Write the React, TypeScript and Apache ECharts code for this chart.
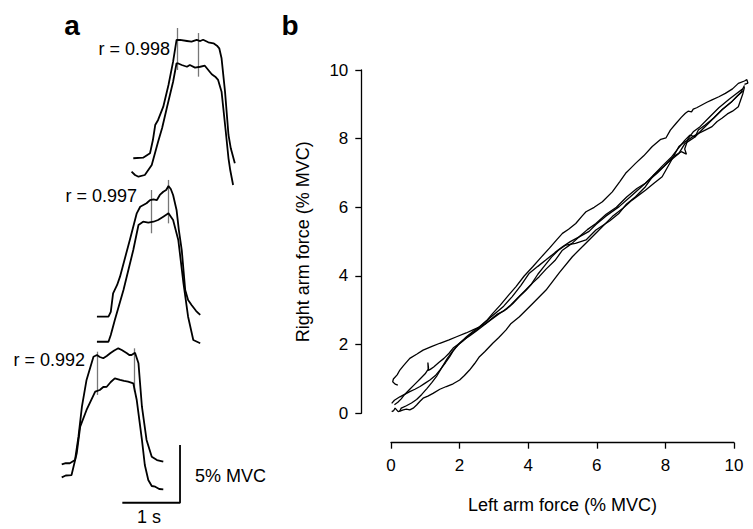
import React, { useEffect, useRef } from "react";
import * as echarts from "echarts";

// ---------- DATA ----------
// Panel a: force traces (local time in s, force in % MVC above each pair's baseline)
const PAIR1_UPPER: number[][] = [
  [0.04, 1.48], [0.21, 1.53], [0.33, 1.91], [0.38, 3.06], [0.42, 4.36], [0.47, 4.8], [0.56, 5.95], [0.65, 7.83],
  [0.73, 9.85], [0.79, 11.73], [0.85, 11.73], [0.97, 11.64], [1.05, 11.58], [1.14, 11.73], [1.2, 11.64],
  [1.25, 11.75], [1.34, 11.53], [1.43, 11.44], [1.49, 11.24], [1.53, 11.01], [1.57, 10.14], [1.63, 7.25],
  [1.69, 3.5], [1.73, 2.34], [1.8, 1.04],
];
const PAIR1_LOWER: number[][] = [
  [0.01, 0.32], [0.07, 0.03], [0.13, -0.12], [0.24, 0.03], [0.36, 0.9], [0.47, 2.92], [0.54, 4.1], [0.62, 5.81],
  [0.73, 8.11], [0.79, 9.71], [0.81, 9.71], [0.88, 9.56], [0.97, 9.41], [1.02, 9.56], [1.11, 9.33], [1.2, 9.41],
  [1.28, 9.5], [1.34, 9.13], [1.4, 8.76], [1.46, 8.55], [1.51, 8.27], [1.57, 7.25], [1.64, 3.93], [1.69, 1.48],
  [1.72, 0.46], [1.77, -0.84],
];
const PAIR1_MARKS: number[][] = [[0.81, 12.77, 9.13], [1.16, 12.33, 8.55]];

const PAIR2_UPPER: number[][] = [
  [0.06, 2.75], [0.26, 2.75], [0.3, 3.16], [0.34, 4.78], [0.41, 5.5], [0.46, 6.22], [0.63, 9.4], [0.75, 11.71],
  [0.81, 12.28], [0.92, 12.58], [0.98, 12.86], [1.04, 12.92], [1.1, 12.86], [1.15, 13.3], [1.21, 13.58],
  [1.26, 13.73], [1.3, 14.08], [1.34, 13.82], [1.38, 13.3], [1.44, 12.0], [1.48, 10.26], [1.53, 8.53],
  [1.59, 5.06], [1.64, 4.2], [1.7, 3.76], [1.78, 3.24], [1.85, 2.9],
];
const PAIR2_LOWER: number[][] = [
  [0.06, 0.58], [0.26, 0.58], [0.3, 1.16], [0.37, 2.46], [0.52, 5.06], [0.69, 8.53], [0.78, 10.7], [0.86, 10.98],
  [0.95, 10.91], [1.04, 10.98], [1.12, 11.13], [1.21, 11.42], [1.3, 11.71], [1.38, 11.13], [1.47, 9.4],
  [1.56, 5.64], [1.64, 2.75], [1.73, 0.73], [1.85, 0.45],
];
const PAIR2_MARKS: number[][] = [[1.01, 13.73, 9.98], [1.3, 14.6, 10.84]];

const PAIR3_UPPER: number[][] = [
  [0.05, 1.96], [0.12, 2.07], [0.19, 2.05], [0.28, 2.33], [0.34, 4.35], [0.4, 6.95], [0.48, 9.27], [0.6, 11.28],
  [0.66, 11.43], [0.71, 11.26], [0.77, 11.15], [0.83, 11.34], [0.89, 11.58], [0.96, 11.82], [1.03, 12.01],
  [1.09, 11.86], [1.18, 11.58], [1.22, 11.43], [1.26, 11.43], [1.32, 11.63], [1.38, 10.71], [1.44, 6.95],
  [1.52, 4.07], [1.61, 2.62], [1.7, 2.33], [1.81, 2.19],
];
const PAIR3_LOWER: number[][] = [
  [0.05, 0.83], [0.12, 0.99], [0.22, 1.03], [0.31, 2.91], [0.37, 5.22], [0.48, 6.67], [0.63, 8.25], [0.71, 8.4],
  [0.77, 8.66], [0.83, 8.68], [0.9, 9.09], [0.97, 9.41], [1.06, 9.27], [1.13, 9.18], [1.2, 9.12], [1.29, 8.98],
  [1.35, 7.53], [1.44, 4.07], [1.49, 1.9], [1.55, 0.6], [1.61, 0.08], [1.67, 0.02], [1.74, -0.18], [1.81, -0.21],
];
const PAIR3_MARKS: number[][] = [[0.66, 11.72, 7.97], [1.31, 12.01, 8.25]];

const R_VALUES = ["r = 0.998", "r = 0.997", "r = 0.992"];
const SCALE_SECONDS = 1;
const SCALE_MVC = 5;

// Panel b: right vs left arm force (% MVC) trajectories
const TRIAL_1: number[][] = [
  [0.2, 0.82], [0.12, 0.85], [0.05, 0.92], [0.07, 1.0], [0.18, 1.12], [0.26, 1.26], [0.36, 1.38], [0.55, 1.6],
  [0.75, 1.72], [0.94, 1.84], [1.2, 1.95], [1.43, 2.04], [1.7, 2.14], [1.92, 2.23], [2.2, 2.34], [2.4, 2.43],
  [2.6, 2.52], [2.79, 2.62], [3.0, 2.78], [3.18, 2.91], [3.4, 3.05], [3.57, 3.2], [3.76, 3.4], [3.96, 3.59],
  [4.15, 3.8], [4.34, 3.98], [4.54, 4.2], [4.8, 4.45], [5.02, 4.75], [5.3, 4.95], [5.51, 5.14], [5.8, 5.3],
  [6.0, 5.5], [6.3, 5.75], [6.68, 6.02], [7.0, 6.3], [7.45, 6.7], [7.8, 7.0], [8.1, 7.3], [8.43, 7.57],
  [8.6, 7.85], [8.75, 7.95], [8.9, 8.05], [9.1, 8.25], [9.4, 8.55], [9.7, 8.85], [10.0, 9.1], [10.25, 9.35],
  [10.35, 9.55],
];
const TRIAL_2: number[][] = [
  [10.35, 9.5], [10.3, 9.3], [10.17, 8.93], [10.0, 8.8], [9.85, 8.72], [9.7, 8.6], [9.55, 8.5], [9.4, 8.35],
  [9.2, 8.25], [8.9, 8.1], [8.6, 7.9], [8.43, 7.77], [8.2, 7.35], [7.94, 6.89], [7.7, 6.7], [7.45, 6.5],
  [7.06, 6.21], [6.8, 5.98], [6.48, 5.73], [6.15, 5.4], [5.8, 5.05], [5.55, 4.8], [5.31, 4.56], [4.93, 4.1],
  [4.54, 3.59], [4.15, 3.2], [3.76, 2.81], [3.5, 2.6], [3.37, 2.43], [3.15, 2.2], [2.98, 2.04], [2.75, 1.8],
  [2.59, 1.65], [2.45, 1.45], [2.3, 1.26], [2.15, 1.1], [2.01, 0.97], [1.82, 0.86], [1.62, 0.78], [1.43, 0.7],
  [1.23, 0.58], [1.08, 0.5], [0.94, 0.44], [0.85, 0.35], [0.75, 0.24], [0.65, 0.15], [0.55, 0.1], [0.45, 0.12],
  [0.36, 0.1], [0.28, 0.07], [0.21, 0.05], [0.12, 0.15], [0.08, 0.08], [0.02, 0.05],
];
const TRIAL_3: number[][] = [
  [0.02, 0.29], [0.1, 0.38], [0.26, 0.48], [0.4, 0.55], [0.55, 0.63], [0.7, 0.7], [0.85, 0.78], [1.0, 0.88],
  [1.14, 0.97], [1.3, 1.1], [1.43, 1.26], [1.6, 1.48], [1.72, 1.65], [1.82, 1.82], [1.92, 1.94], [2.05, 2.08],
  [2.21, 2.23], [2.4, 2.38], [2.59, 2.52], [2.8, 2.7], [2.98, 2.91], [3.2, 3.15], [3.45, 3.45], [3.66, 3.69],
  [3.9, 4.0], [4.15, 4.27], [4.4, 4.55], [4.64, 4.81], [4.85, 5.05], [5.02, 5.24], [5.2, 5.36], [5.41, 5.53],
  [5.6, 5.75], [5.71, 5.87], [5.95, 6.0], [6.19, 6.16], [6.48, 6.45], [6.7, 6.75], [6.87, 6.99], [7.0, 7.12],
  [7.16, 7.28], [7.4, 7.5], [7.65, 7.77], [7.9, 7.98], [8.05, 8.02], [8.18, 8.25], [8.35, 8.45], [8.5, 8.62],
  [8.62, 8.74], [8.7, 8.8], [8.8, 8.78], [8.85, 8.86], [8.95, 8.9], [9.1, 8.98], [9.25, 9.06], [9.4, 9.13],
  [9.6, 9.22], [9.79, 9.32], [10.0, 9.45], [10.17, 9.61], [10.35, 9.68], [10.42, 9.72], [10.45, 9.62],
  [10.35, 9.58],
];
const TRIAL_4: number[][] = [
  [10.3, 9.45], [10.1, 9.3], [9.9, 9.15], [9.6, 8.9], [9.3, 8.6], [9.05, 8.35], [8.85, 8.2], [8.7, 8.0],
  [8.6, 7.7], [8.65, 7.55], [8.5, 7.62], [8.3, 7.5], [8.0, 7.2], [7.7, 6.95], [7.45, 6.6], [7.16, 6.31],
  [6.9, 6.1], [6.68, 5.83], [6.4, 5.6], [6.0, 5.34], [5.71, 5.05], [5.4, 4.95], [5.12, 4.9], [4.9, 4.75],
  [4.7, 4.55], [4.5, 4.3], [4.3, 4.05], [4.1, 3.75], [3.9, 3.55], [3.7, 3.35], [3.5, 3.15], [3.3, 2.98],
  [3.1, 2.88], [2.9, 2.72], [2.7, 2.55], [2.5, 2.4], [2.3, 2.25], [2.1, 2.12], [1.95, 2.0], [1.82, 1.9],
  [1.7, 1.75], [1.55, 1.6], [1.4, 1.48], [1.25, 1.35], [1.15, 1.28], [1.09, 1.25], [1.08, 1.48], [1.1, 1.3],
  [1.0, 1.15], [0.85, 1.0], [0.7, 0.85], [0.55, 0.7], [0.4, 0.55], [0.3, 0.42], [0.2, 0.32], [0.1, 0.25],
];
const TRIAL_5: number[][] = [
  [0.25, 0.05], [0.3, 0.15], [0.45, 0.22], [0.6, 0.3], [0.75, 0.4], [0.9, 0.55], [1.05, 0.72], [1.2, 0.9],
  [1.35, 1.1], [1.5, 1.35], [1.65, 1.6], [1.8, 1.8], [1.95, 1.98], [2.1, 2.1], [2.3, 2.28], [2.5, 2.42],
  [2.7, 2.6], [2.9, 2.78], [3.1, 2.95], [3.3, 3.12], [3.55, 3.4], [3.8, 3.72], [4.05, 4.08], [4.3, 4.28],
  [4.54, 4.47], [4.8, 4.68], [5.02, 4.85], [5.25, 5.0], [5.51, 5.14], [5.75, 5.35], [6.0, 5.53], [6.3, 5.8],
  [6.6, 6.0], [6.9, 6.3], [7.2, 6.55], [7.45, 6.7], [7.7, 6.95], [7.94, 7.2], [8.2, 7.45], [8.4, 7.7],
  [8.6, 7.95], [8.75, 8.1], [8.9, 8.05], [9.0, 8.25], [9.2, 8.4], [9.45, 8.6], [9.7, 8.85], [9.95, 9.05],
  [10.15, 9.25], [10.3, 9.38],
];
const X_TICKS_B = [0, 2, 4, 6, 8, 10];
const X_NAME_B = "Left arm force (% MVC)";
const Y_NAME_B = "Right arm force (% MVC)";

// ---------- LAYOUT ----------
const W = 753;
const H = 529;
const FONT = '"Liberation Sans", Arial, Helvetica, sans-serif';
// offsets of each trace pair inside panel a (s, % MVC)
const PAIR_OFFSETS = [
  { t: 1.75, f: 29 },
  { t: 1.1, f: 14 },
  { t: 0.5, f: 2 },
];
const SCALE_ORIGIN = { t: 1.6, f: 0.63 };
const B_LEFT = 391;
const B_TOP = 70;
const B_W = 343;
const B_H = 343.3;
const B_DATA_MAX = 10.6; // data area reaches a little past the last tick

const shift = (pts: number[][], o: { t: number; f: number }) => pts.map((p) => [p[0] + o.t, p[1] + o.f]);

export default function App() {
  const ref = useRef<HTMLDivElement>(null);
  useEffect(() => {
    document.body.style.margin = "0";
    if (!ref.current) return;
    const chart = echarts.init(ref.current, undefined, { renderer: "svg" });

    const traceStyle = { color: "#000", width: 1.8 };
    const pairs = [
      [PAIR1_UPPER, PAIR1_LOWER, PAIR1_MARKS],
      [PAIR2_UPPER, PAIR2_LOWER, PAIR2_MARKS],
      [PAIR3_UPPER, PAIR3_LOWER, PAIR3_MARKS],
    ];
    const series: any[] = [];
    pairs.forEach((p, i) => {
      const o = PAIR_OFFSETS[i];
      [p[0], p[1]].forEach((tr) => {
        series.push({
          type: "line",
          xAxisIndex: 0,
          yAxisIndex: 0,
          data: shift(tr, o),
          symbol: "none",
          clip: false,
          lineStyle: traceStyle,
          silent: true,
        });
      });
      series.push({
        type: "lines",
        coordinateSystem: "cartesian2d",
        xAxisIndex: 0,
        yAxisIndex: 0,
        clip: false,
        silent: true,
        lineStyle: { color: "#777", width: 1.3, opacity: 1 },
        data: p[2].map((m) => ({ coords: [[m[0] + o.t, m[1] + o.f], [m[0] + o.t, m[2] + o.f]] })),
      });
    });
    // scale bar
    series.push({
      type: "line",
      xAxisIndex: 0,
      yAxisIndex: 0,
      symbol: "none",
      clip: false,
      silent: true,
      lineStyle: { color: "#000", width: 1.8 },
      data: [
        [SCALE_ORIGIN.t, SCALE_ORIGIN.f],
        [SCALE_ORIGIN.t + SCALE_SECONDS, SCALE_ORIGIN.f],
        [SCALE_ORIGIN.t + SCALE_SECONDS, SCALE_ORIGIN.f + SCALE_MVC],
      ],
    });
    [TRIAL_1, TRIAL_2, TRIAL_3, TRIAL_4, TRIAL_5].forEach((tr) => {
      series.push({
        type: "line",
        xAxisIndex: 1,
        yAxisIndex: 1,
        data: tr,
        symbol: "none",
        clip: false,
        silent: true,
        lineStyle: { color: "#000", width: 1.3 },
      });
    });

    const txt = (text: string, x: number, y: number, align: string, size = 18, weight = "normal") => ({
      type: "text",
      x,
      y,
      silent: true,
      style: { text, fill: "#000", font: `${weight} ${size}px ${FONT}`, align, verticalAlign: "middle" },
    });

    const axisTextStyle = { color: "#000", fontSize: 18, fontFamily: FONT };
    const xMax = X_TICKS_B[X_TICKS_B.length - 1];
    chart.setOption({
      animation: false,
      backgroundColor: "#fff",
      grid: [
        { left: 30, top: 2.24, width: 230.8, height: 507.76 },
        { left: B_LEFT, top: B_TOP, width: (B_W * B_DATA_MAX) / xMax, height: B_H },
        { left: B_LEFT, top: B_TOP, width: B_W, height: B_H },
      ],
      xAxis: [
        { gridIndex: 0, type: "value", min: 0, max: 4, show: false },
        { gridIndex: 1, type: "value", min: 0, max: B_DATA_MAX, show: false },
        {
          gridIndex: 2,
          type: "value",
          min: X_TICKS_B[0],
          max: xMax,
          interval: 2,
          offset: 29.4,
          axisLine: { show: true, onZero: false, lineStyle: { color: "#000", width: 1.3 } },
          axisTick: { show: true, length: 6, lineStyle: { color: "#000", width: 1.3 } },
          axisLabel: { color: "#000", fontSize: 17, fontFamily: FONT, margin: 14 },
          splitLine: { show: false },
          name: X_NAME_B,
          nameLocation: "middle",
          nameGap: 53,
          nameTextStyle: axisTextStyle,
        },
      ],
      yAxis: [
        { gridIndex: 0, type: "value", min: 0, max: 44, show: false },
        { gridIndex: 1, type: "value", min: 0, max: 10, show: false },
        {
          gridIndex: 2,
          type: "value",
          min: 0,
          max: 10,
          interval: 2,
          offset: 29.7,
          axisLine: { show: true, onZero: false, lineStyle: { color: "#000", width: 1.3 } },
          axisTick: { show: true, length: 6, lineStyle: { color: "#000", width: 1.3 } },
          axisLabel: { color: "#000", fontSize: 17, fontFamily: FONT, margin: 13 },
          splitLine: { show: false },
          name: Y_NAME_B,
          nameLocation: "middle",
          nameGap: 49,
          nameTextStyle: axisTextStyle,
        },
      ],
      series,
      graphic: [
        txt("a", 72, 25, "center", 28, "bold"),
        txt("b", 290, 25, "center", 28, "bold"),
        txt(R_VALUES[0], 170, 49, "right"),
        txt(R_VALUES[1], 137, 196, "right"),
        txt(R_VALUES[2], 85, 360, "right"),
        txt(`${SCALE_MVC}% MVC`, 195, 476, "left"),
        txt(`${SCALE_SECONDS} s`, 149, 517, "center"),
      ],
    });
    return () => chart.dispose();
  }, []);
  return <div ref={ref} style={{ width: W, height: H }} />;
}
